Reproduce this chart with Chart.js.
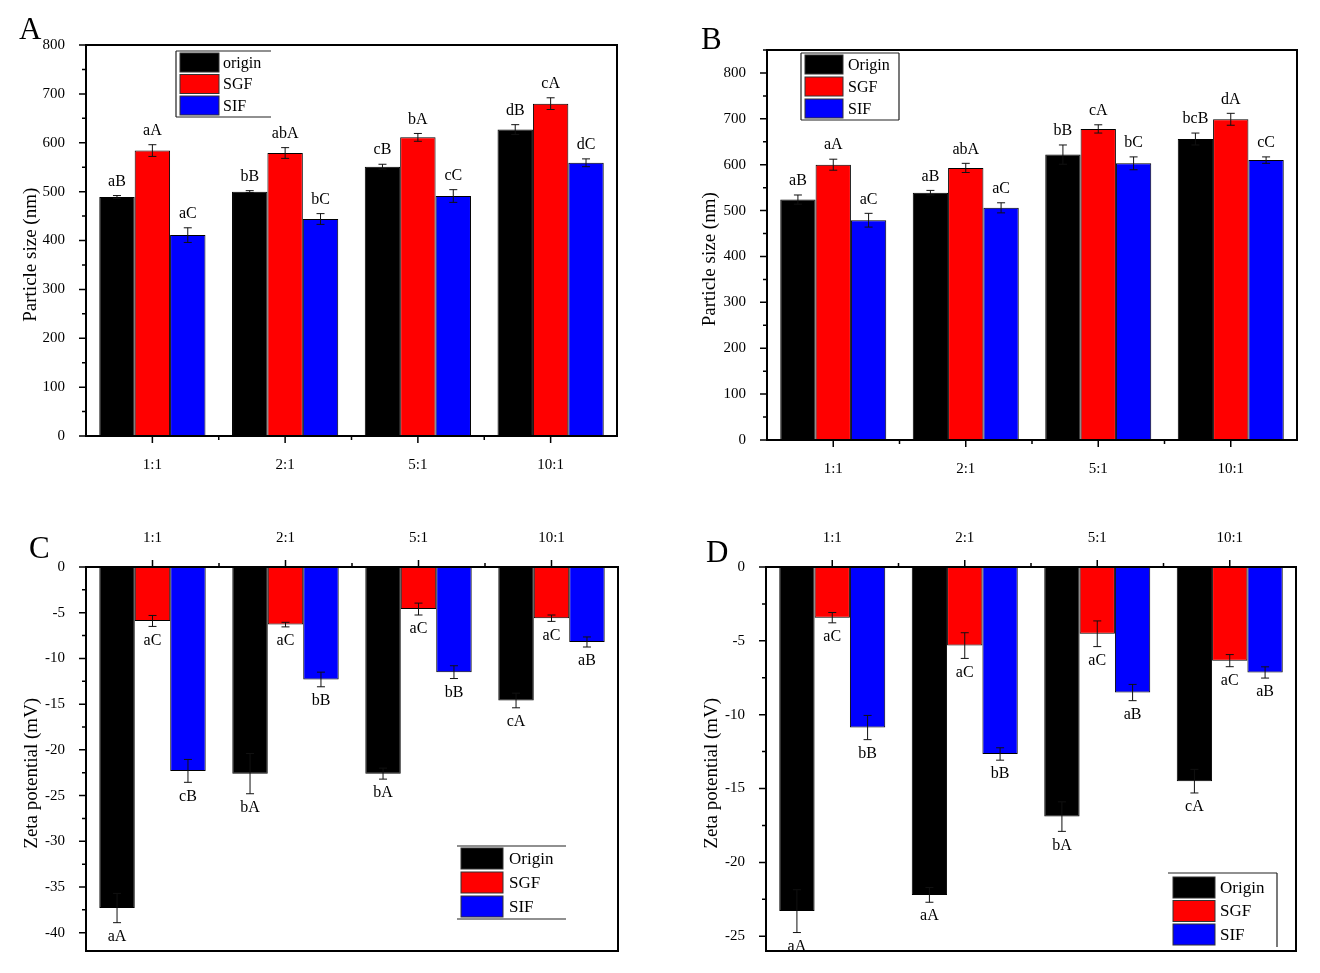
<!DOCTYPE html>
<html>
<head>
<meta charset="utf-8">
<script src="https://cdn.jsdelivr.net/npm/chart.js@4.4.1/dist/chart.umd.min.js"></script>
<style>
    body { margin: 0; background: #fff; width: 1320px; height: 973px; position: relative; overflow: hidden; font-family: 'Liberation Serif', serif; }
    canvas { position: absolute; }
    .tag { position: absolute; font-size: 31px; line-height: 1; color: #000; }
</style>
</head>
<body>
<canvas id="chartA" width="660" height="486" style="left:0;top:0"></canvas>
<canvas id="chartB" width="660" height="486" style="left:660px;top:0"></canvas>
<canvas id="chartC" width="660" height="487" style="left:0;top:486px"></canvas>
<canvas id="chartD" width="660" height="487" style="left:660px;top:486px"></canvas>
<div class="tag" style="left:19px;top:13px">A</div>
<div class="tag" style="left:701px;top:23px">B</div>
<div class="tag" style="left:29px;top:532px">C</div>
<div class="tag" style="left:706px;top:536px">D</div>
<script>
// Shared categories and colours
const categories = ['1:1', '2:1', '5:1', '10:1'];
const seriesColors = ['#000000', '#ff0000', '#0000ff'];

// A - particle size
const sizeA_origin = [489, 500, 551, 627];
const sizeA_sgf = [584, 579, 611, 680];
const sizeA_sif = [411, 444, 491, 559];
const errA_origin = [3, 2, 5, 10];
const errA_sgf = [12, 11, 8, 12];
const errA_sif = [15, 11, 13, 8];
const letA_origin = ['aB', 'bB', 'cB', 'dB'];
const letA_sgf = ['aA', 'abA', 'bA', 'cA'];
const letA_sif = ['aC', 'bC', 'cC', 'dC'];

// B - particle size
const sizeB_origin = [524, 539, 622, 656];
const sizeB_sgf = [600, 593, 678, 699];
const sizeB_sif = [479, 506, 603, 610];
const errB_origin = [10, 5, 21, 13];
const errB_sgf = [12, 10, 9, 13];
const errB_sif = [15, 11, 14, 7];
const letB_origin = ['aB', 'aB', 'bB', 'bcB'];
const letB_sgf = ['aA', 'abA', 'cA', 'dA'];
const letB_sif = ['aC', 'aC', 'bC', 'cC'];

// C - zeta potential
const zetaC_origin = [-37.3, -22.6, -22.6, -14.6];
const zetaC_sgf = [-5.9, -6.3, -4.6, -5.6];
const zetaC_sif = [-22.3, -12.3, -11.5, -8.2];
const errC_origin = [1.6, 2.2, 0.6, 0.8];
const errC_sgf = [0.6, 0.25, 0.65, 0.35];
const errC_sif = [1.25, 0.8, 0.7, 0.55];
const letC_origin = ['aA', 'bA', 'bA', 'cA'];
const letC_sgf = ['aC', 'aC', 'aC', 'aC'];
const letC_sif = ['cB', 'bB', 'bB', 'aB'];

// D - zeta potential
const zetaD_origin = [-23.3, -22.2, -16.9, -14.5];
const zetaD_sgf = [-3.43, -5.32, -4.52, -6.34];
const zetaD_sif = [-10.87, -12.66, -8.5, -7.14];
const errD_origin = [1.45, 0.5, 1.0, 0.8];
const errD_sgf = [0.35, 0.87, 0.87, 0.41];
const errD_sif = [0.82, 0.42, 0.55, 0.38];
const letD_origin = ['aA', 'aA', 'bA', 'cA'];
const letD_sgf = ['aC', 'aC', 'aC', 'aC'];
const letD_sif = ['bB', 'bB', 'aB', 'aB'];

const FONT = "'Liberation Serif', 'Times New Roman', serif";
// trailing spaces nudge the rotated title down a bit, like the original
const TITLE_PAD = '      ';

// error bars, group letters, frame, ticks and legend
const panelExtras = {
    id: 'panelExtras',
    afterDatasetsDraw(chart) {
        const o = chart.options.plugins.panelExtras;
        const { ctx, chartArea: a, scales: { x, y } } = chart;
        ctx.save();

        chart.data.datasets.forEach((ds, di) => {
            const meta = chart.getDatasetMeta(di);
            meta.data.forEach((bar, i) => {
                const v = ds.data[i], e = o.errors[di][i];
                const yHi = y.getPixelForValue(v + e), yLo = y.getPixelForValue(v - e);
                ctx.strokeStyle = '#111';
                ctx.lineWidth = 1;
                ctx.beginPath();
                ctx.moveTo(bar.x, yHi); ctx.lineTo(bar.x, yLo);
                ctx.moveTo(bar.x - 4, yHi); ctx.lineTo(bar.x + 4, yHi);
                ctx.moveTo(bar.x - 4, yLo); ctx.lineTo(bar.x + 4, yLo);
                ctx.stroke();

                ctx.fillStyle = '#000';
                ctx.font = '16px ' + FONT;
                ctx.textAlign = 'center';
                if (v >= 0) {
                    ctx.textBaseline = 'bottom';
                    ctx.fillText(o.letters[di][i], bar.x, yHi - 6);
                } else {
                    ctx.textBaseline = 'top';
                    ctx.fillText(o.letters[di][i], bar.x, yLo + 6);
                }
            });
        });

        // frame
        ctx.strokeStyle = '#000';
        ctx.lineWidth = 2;
        ctx.strokeRect(a.left, a.top, a.right - a.left, a.bottom - a.top);

        // x ticks
        const xBase = o.xTop ? a.top : a.bottom;
        const dir = o.xTop ? -1 : 1;
        ctx.lineWidth = 1.5;
        ctx.beginPath();
        for (let i = 0; i < categories.length; i++) {
            const px = x.getPixelForValue(i);
            ctx.moveTo(px, xBase); ctx.lineTo(px, xBase + dir * 7);
        }
        for (let i = 0; i < categories.length - 1; i++) {
            const px = x.getPixelForValue(i + 0.5);
            ctx.moveTo(px, xBase); ctx.lineTo(px, xBase + dir * 4);
        }
        ctx.stroke();

        // y ticks (major + minor)
        const half = o.step / 2;
        ctx.beginPath();
        for (let v = Math.ceil(y.min / half) * half; v <= y.max + 1e-9; v += half) {
            const py = y.getPixelForValue(v);
            const major = Math.abs(Math.round(v / o.step) * o.step - v) < 1e-9;
            ctx.moveTo(a.left, py); ctx.lineTo(a.left - (major ? 7 : 4), py);
        }
        ctx.stroke();

        // legend
        const L = o.legend;
        ctx.lineWidth = 1.2;
        ctx.strokeStyle = '#222';
        ctx.beginPath();
        if (L.sides.includes('t')) { ctx.moveTo(L.x, L.y); ctx.lineTo(L.x + L.w, L.y); }
        if (L.sides.includes('b')) { ctx.moveTo(L.x, L.y + L.h); ctx.lineTo(L.x + L.w, L.y + L.h); }
        if (L.sides.includes('l')) { ctx.moveTo(L.x, L.y); ctx.lineTo(L.x, L.y + L.h); }
        if (L.sides.includes('r')) { ctx.moveTo(L.x + L.w, L.y); ctx.lineTo(L.x + L.w, L.y + L.h); }
        ctx.stroke();
        ctx.font = L.font + 'px ' + FONT;
        ctx.textAlign = 'left';
        ctx.textBaseline = 'middle';
        chart.data.datasets.forEach((ds, di) => {
            const sy = L.rowY + di * L.rowStep;
            ctx.fillStyle = ds.backgroundColor;
            ctx.fillRect(L.swX, sy, L.swW, L.swH);
            ctx.strokeStyle = '#333';
            ctx.lineWidth = 1;
            ctx.strokeRect(L.swX, sy, L.swW, L.swH);
            ctx.fillStyle = '#000';
            ctx.fillText(ds.label, L.textX, sy + L.swH / 2 + 1);
        });
        ctx.restore();
    }
};

function makePanel(id, p) {
    const datasets = p.series.map((s, i) => ({
        label: p.names[i],
        data: s,
        backgroundColor: seriesColors[i],
        borderColor: '#000',
        borderWidth: 1,
        barPercentage: 1.0,
        categoryPercentage: 0.8
    }));
    return new Chart(document.getElementById(id).getContext('2d'), {
        type: 'bar',
        data: { labels: categories, datasets },
        options: {
            responsive: false,
            animation: false,
            layout: { autoPadding: false, padding: p.padding },
            plugins: {
                legend: { display: false },
                tooltip: { enabled: false },
                panelExtras: { errors: p.errors, letters: p.letters, step: p.step, xTop: p.xTop, legend: p.legend }
            },
            scales: {
                x: {
                    position: p.xTop ? 'top' : 'bottom',
                    afterFit: s => { s.height = p.xHeight; },
                    grid: { display: false },
                    border: { display: false },
                    ticks: { color: '#000', padding: 12, font: { family: FONT, size: 15 } }
                },
                y: {
                    min: p.min, max: p.max,
                    afterBuildTicks: s => {
                        const t = [];
                        for (let v = Math.ceil(p.min / p.step) * p.step; v <= p.max + 1e-9; v += p.step) t.push({ value: v });
                        s.ticks = t;
                    },
                    afterFit: s => { s.width = p.yWidth; },
                    grid: { display: false },
                    border: { display: false },
                    ticks: { stepSize: p.step, color: '#000', padding: 13, font: { family: FONT, size: 15 } },
                    title: { display: true, text: p.yTitle + TITLE_PAD, color: '#000', font: { family: FONT, size: 19 }, padding: { top: p.titlePad, bottom: 0 } }
                }
            }
        },
        plugins: [panelExtras]
    });
}

makePanel('chartA', {
    series: [sizeA_origin, sizeA_sgf, sizeA_sif],
    errors: [errA_origin, errA_sgf, errA_sif],
    letters: [letA_origin, letA_sgf, letA_sif],
    names: ['origin', 'SGF', 'SIF'],
    min: 0, max: 800, step: 100, xTop: false,
    yTitle: 'Particle size (nm)', titlePad: 20,
    yWidth: 86, xHeight: 50,
    padding: { left: 0, top: 45, right: 43, bottom: 0 },
    legend: { x: 176, y: 51, w: 95, h: 66, sides: 'tlb', swX: 180, swW: 39, swH: 19, rowY: 53, rowStep: 21.5, textX: 223, font: 16 }
});

makePanel('chartB', {
    series: [sizeB_origin, sizeB_sgf, sizeB_sif],
    errors: [errB_origin, errB_sgf, errB_sif],
    letters: [letB_origin, letB_sgf, letB_sif],
    names: ['Origin', 'SGF', 'SIF'],
    min: 0, max: 850, step: 100, xTop: false,
    yTitle: 'Particle size (nm)', titlePad: 39,
    yWidth: 107, xHeight: 46,
    padding: { left: 0, top: 50, right: 23, bottom: 0 },
    legend: { x: 141, y: 53, w: 98, h: 67, sides: 'tlbr', swX: 145, swW: 38, swH: 19, rowY: 55, rowStep: 22, textX: 188, font: 16 }
});

makePanel('chartC', {
    series: [zetaC_origin, zetaC_sgf, zetaC_sif],
    errors: [errC_origin, errC_sgf, errC_sif],
    letters: [letC_origin, letC_sgf, letC_sif],
    names: ['Origin', 'SGF', 'SIF'],
    min: -42, max: 0, step: 5, xTop: true,
    yTitle: 'Zeta potential (mV)', titlePad: 21,
    yWidth: 86, xHeight: 81,
    padding: { left: 0, top: 0, right: 42, bottom: 16 },
    legend: { x: 457, y: 360, w: 109, h: 73, sides: 'tb', swX: 461, swW: 42, swH: 21, rowY: 362, rowStep: 24, textX: 509, font: 17 }
});

makePanel('chartD', {
    series: [zetaD_origin, zetaD_sgf, zetaD_sif],
    errors: [errD_origin, errD_sgf, errD_sif],
    letters: [letD_origin, letD_sgf, letD_sif],
    names: ['Origin', 'SGF', 'SIF'],
    min: -26, max: 0, step: 5, xTop: true,
    yTitle: 'Zeta potential (mV)', titlePad: 41,
    yWidth: 106, xHeight: 81,
    padding: { left: 0, top: 0, right: 24, bottom: 16 },
    legend: { x: 508, y: 387, w: 109, h: 74, sides: 'tr', swX: 513, swW: 42, swH: 21, rowY: 391, rowStep: 23.5, textX: 560, font: 17 }
});
</script>
</body>
</html>
